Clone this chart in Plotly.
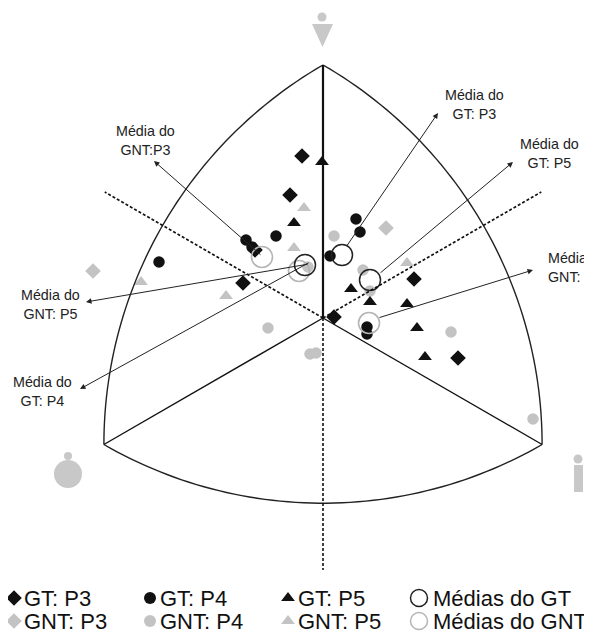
import numpy as np
import plotly.graph_objects as go

# ---------------- data (units: offset from the centroid, y up) ----------------
gt_p3_x = [-21, -33, -80, 91, 135, 11, -68]
gt_p3_y = [162, 123, 35, 39, -40, 1, 68]

gt_p4_x = [-164, -77, -71, -47, 33, 37, 7, 44, 44]
gt_p4_y = [56, 78, 71, 82, 99, 86, 62, -9, -16]

gt_p5_x = [-1, -29, 28, 47, 84, 94, 102]
gt_p5_y = [156, 95, 29, 16, 14, -10, -39]

gnt_p3_x = [-230, 63]
gnt_p3_y = [47, 90]

gnt_p4_x = [-55, -13, -7, 11, 40, 47, 128, 210, -15]
gnt_p4_y = [-10, -36, -35, 82, 48, 27, -14, -101, 51]

gnt_p5_x = [-19, -29, -97, -182, 84]
gnt_p5_y = [110, 70, 22, 36, 55]

# means: order P3, P4, P5
mean_gt_x = [19, -18, 47]
mean_gt_y = [63, 53, 38]
mean_gnt_x = [-61, 46, -24]
mean_gnt_y = [61, -5, 47]

# labels for the mean call-outs
callout_text = ["Média do<br>GT: P3", "Média do<br>GT: P5", "Média do<br>GNT: P4",
                "Média do<br>GNT:P3", "Média do<br>GNT: P5", "Média do<br>GT: P4"]
callout_tail_x = [23, 56, 55, -61, -14, -13]
callout_tail_y = [71, 44, 0, 62, 54, 56]
callout_tip_x = [115, 190, 210, -169, -237, -243]
callout_tip_y = [205, 156, 48, 157, 16, -71]
callout_lab_x = [151, 226, 223, -178, -273, -281]
callout_lab_y = [214, 165, 51, 178, 14, -73]
callout_anchor = ["center", "center", "left", "center", "center", "center"]

legend_labels = ["GT: P3", "GT: P4", "GT: P5", "Médias do GT",
                 "GNT: P3", "GNT: P4", "GNT: P5", "Médias do GNT"]

# ---------------- geometry ----------------
PAGE_W, PAGE_H = 592, 634
OFF = 8                    # browser body margin
CX, CY = 323, 318          # centroid position in the page
def X(px): return px - CX
def Y(py): return CY - py

R = 253.0                  # circumradius
ang = np.radians([90, 210, 330])
vx, vy = R * np.cos(ang), R * np.sin(ang)   # top, bottom-left, bottom-right
side = np.hypot(vx[1] - vx[2], vy[1] - vy[2])

def arc_path(ci, a, b, n=60):
    cx0, cy0 = vx[ci], vy[ci]
    t0 = np.arctan2(vy[a] - cy0, vx[a] - cx0)
    t1 = np.arctan2(vy[b] - cy0, vx[b] - cx0)
    if t1 - t0 > np.pi: t1 -= 2 * np.pi
    if t0 - t1 > np.pi: t0 -= 2 * np.pi
    t = np.linspace(t0, t1, n)
    xs, ys = cx0 + side * np.cos(t), cy0 + side * np.sin(t)
    return "M " + " L ".join(f"{x:.2f},{y:.2f}" for x, y in zip(xs, ys))

BLACK = "#111111"
GRAY = "#c3c3c3"
GRAY_LINE = "#b5b5b5"
FONT = "Liberation Sans, Arial, sans-serif"

shapes = []
for ci, a, b in [(0, 1, 2), (2, 0, 1), (1, 0, 2)]:
    shapes.append(dict(type="path", path=arc_path(ci, a, b), xref="x", yref="y",
                       line=dict(color="#222", width=1.4)))
# centre -> vertices
for i in range(3):
    shapes.append(dict(type="line", x0=0, y0=0, x1=vx[i], y1=vy[i], xref="x", yref="y",
                       line=dict(color=BLACK, width=2.2 if i == 0 else 1.4)))
# dotted extensions
L = 252
for i in range(3):
    shapes.append(dict(type="line", x0=0, y0=0, x1=-vx[i] / R * L, y1=-vy[i] / R * L,
                       xref="x", yref="y",
                       line=dict(color=BLACK, width=1.6, dash="3px,2px")))

# corner pictograms
ICON = "#c8c8c8"
def circ(px, py, r):
    shapes.append(dict(type="circle", xref="x", yref="y", x0=X(px - r), x1=X(px + r),
                       y0=Y(py + r), y1=Y(py - r), fillcolor=ICON, line=dict(width=0)))
circ(322, 17, 4.5)
shapes.append(dict(type="path", xref="x", yref="y",
                   path=f"M {X(312)},{Y(24)} L {X(333)},{Y(24)} L {X(322.5)},{Y(47)} Z",
                   fillcolor=ICON, line=dict(width=0)))
circ(68, 456, 4)
circ(68, 474, 14)
circ(578, 459, 4.5)
shapes.append(dict(type="rect", xref="x", yref="y", x0=X(574), x1=X(583), y0=Y(492), y1=Y(465),
                   fillcolor=ICON, line=dict(width=0)))

fig = go.Figure()

def pts(xs, ys, sym, color, size):
    fig.add_trace(go.Scatter(x=xs, y=ys, mode="markers", showlegend=False, hoverinfo="skip",
                             marker=dict(symbol=sym, color=color, size=size, line=dict(width=0))))

pts(gnt_p3_x, gnt_p3_y, "diamond", GRAY, 12)
pts(gnt_p4_x, gnt_p4_y, "circle", GRAY, 11.5)
pts(gnt_p5_x, gnt_p5_y, "triangle-up", GRAY, 12)
pts(gt_p3_x, gt_p3_y, "diamond", BLACK, 12)
pts(gt_p4_x, gt_p4_y, "circle", BLACK, 11.5)
pts(gt_p5_x, gt_p5_y, "triangle-up", BLACK, 12)

fig.add_trace(go.Scatter(x=mean_gnt_x, y=mean_gnt_y, mode="markers", showlegend=False,
                         hoverinfo="skip",
                         marker=dict(symbol="circle-open", size=21, color=GRAY_LINE,
                                     line=dict(width=1.6, color=GRAY_LINE))))
fig.add_trace(go.Scatter(x=mean_gt_x, y=mean_gt_y, mode="markers", showlegend=False,
                         hoverinfo="skip",
                         marker=dict(symbol="circle-open", size=21, color="#222",
                                     line=dict(width=1.5, color="#222"))))

annotations = []
for i in range(len(callout_text)):
    annotations.append(dict(x=callout_tip_x[i], y=callout_tip_y[i], xref="x", yref="y",
                            ax=callout_tail_x[i], ay=callout_tail_y[i], axref="x", ayref="y",
                            text="", showarrow=True, arrowhead=2, arrowsize=1.1,
                            arrowwidth=1, arrowcolor="#222", standoff=0, startstandoff=0))
    annotations.append(dict(x=callout_lab_x[i], y=callout_lab_y[i], xref="x", yref="y",
                            text=callout_text[i], showarrow=False, xanchor=callout_anchor[i],
                            yanchor="middle", align="center" if callout_anchor[i] == "center" else "left",
                            font=dict(family=FONT, size=14.3, color="#222")))

# legend (manual, two rows of four)
leg_sym = ["diamond", "circle", "triangle-up", "circle-open"]
leg_mx = [14, 150, 288, 419]
leg_tx = [22, 158, 296, 431]
leg_row_y = [598, 621]
for r, (col, lc) in enumerate([(BLACK, "#222"), (GRAY, GRAY_LINE)]):
    for c in range(4):
        sym = leg_sym[c]
        if sym == "circle-open":
            mk = dict(symbol=sym, size=17, color=lc, line=dict(width=1.5, color=lc))
        else:
            mk = dict(symbol=sym, size=12, color=col, line=dict(width=0))
        fig.add_trace(go.Scatter(x=[X(leg_mx[c])], y=[Y(leg_row_y[r])], mode="markers",
                                 showlegend=False, hoverinfo="skip", marker=mk))
        annotations.append(dict(x=X(leg_tx[c]), y=Y(leg_row_y[r]), xref="x", yref="y",
                                text=legend_labels[r * 4 + c], showarrow=False,
                                xanchor="left", yanchor="middle",
                                font=dict(family=FONT, size=22, color="#111")))

fig.update_layout(
    width=PAGE_W - OFF, height=PAGE_H - OFF, margin=dict(l=0, r=0, t=0, b=0),
    paper_bgcolor="white", plot_bgcolor="white",
    xaxis=dict(range=[X(OFF), X(PAGE_W)], visible=False, fixedrange=True),
    yaxis=dict(range=[Y(PAGE_H), Y(OFF)], visible=False, fixedrange=True),
    shapes=shapes, annotations=annotations, showlegend=False,
)
fig.write_html("out.html")
